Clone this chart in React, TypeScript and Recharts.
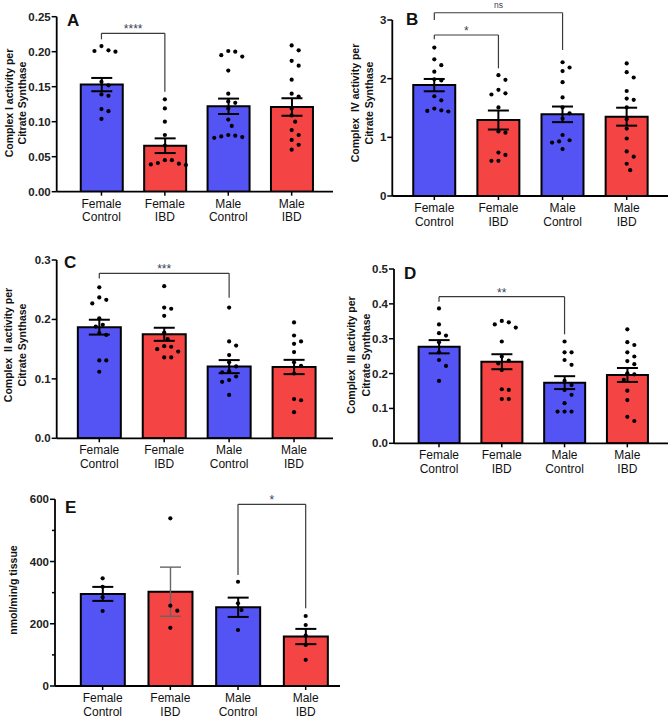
import { Bar, Cell, ComposedChart, ErrorBar, ReferenceLine, Scatter, XAxis, YAxis } from 'recharts'

const W = 672
const H = 720
const FONT = '"Liberation Sans", Arial, sans-serif'

const GROUPS = ['Female Control', 'Female IBD', 'Male Control', 'Male IBD']
const FILLS = ['#5454F4', '#F44444', '#5454F4', '#F44444']

// panel A - Complex I
const A_MEAN = [0.153, 0.0657, 0.122, 0.121]
const A_SEM = [0.0095, 0.0105, 0.011, 0.0125]
const A_FC = [0.208, 0.202, 0.201, 0.2, 0.157, 0.152, 0.139, 0.137, 0.118, 0.115, 0.104]
const A_FI = [0.132, 0.119, 0.1, 0.081, 0.066, 0.045, 0.045, 0.041, 0.04, 0.039, 0.038]
const A_MC = [0.201, 0.2, 0.195, 0.193, 0.173, 0.14, 0.129, 0.127, 0.119, 0.103, 0.094, 0.08, 0.081, 0.079, 0.078, 0.077]
const A_MI = [0.209, 0.202, 0.187, 0.18, 0.16, 0.14, 0.136, 0.119, 0.109, 0.1, 0.088, 0.081, 0.074, 0.067, 0.06]
const A_TICKS = [0, 0.05, 0.1, 0.15, 0.2, 0.25]

// panel B - Complex IV
const B_MEAN = [1.89, 1.295, 1.392, 1.352]
const B_SEM = [0.105, 0.162, 0.133, 0.153]
const B_FC = [2.53, 2.33, 2.23, 2.12, 1.99, 1.97, 1.7, 1.63, 1.49, 1.46, 1.45, 1.44]
const B_FI = [2.06, 1.98, 1.81, 1.75, 1.73, 1.51, 1.1, 1.08, 0.74, 0.7, 0.6, 0.6]
const B_MC = [2.28, 2.19, 2.13, 1.94, 1.68, 1.51, 1.41, 1.32, 1.04, 0.95, 0.93, 0.91, 0.8]
const B_MI = [2.26, 2.11, 2.02, 1.79, 1.66, 1.64, 1.51, 1.31, 1.15, 0.98, 0.76, 0.67, 0.55, 0.44]
const B_TICKS = [0, 1, 2, 3]

// panel C - Complex II
const C_MEAN = [0.187, 0.175, 0.1206, 0.12]
const C_SEM = [0.0125, 0.011, 0.011, 0.012]
const C_FC = [0.254, 0.237, 0.233, 0.227, 0.202, 0.191, 0.188, 0.177, 0.174, 0.131, 0.131, 0.112]
const C_FI = [0.256, 0.22, 0.218, 0.206, 0.178, 0.167, 0.155, 0.154, 0.15, 0.146, 0.136, 0.136]
const C_MC = [0.22, 0.163, 0.156, 0.14, 0.128, 0.121, 0.113, 0.111, 0.104, 0.098, 0.095, 0.073]
const C_MI = [0.195, 0.173, 0.163, 0.159, 0.145, 0.128, 0.122, 0.109, 0.066, 0.064, 0.044]
const C_TICKS = [0, 0.1, 0.2, 0.3]

// panel D - Complex III
const D_MEAN = [0.277, 0.234, 0.174, 0.196]
const D_SEM = [0.019, 0.0215, 0.0185, 0.02]
const D_FC = [0.387, 0.341, 0.316, 0.309, 0.29, 0.261, 0.239, 0.222, 0.179]
const D_FI = [0.351, 0.347, 0.341, 0.332, 0.292, 0.249, 0.237, 0.229, 0.21, 0.155, 0.153, 0.127, 0.127]
const D_MC = [0.292, 0.261, 0.261, 0.239, 0.225, 0.179, 0.167, 0.153, 0.139, 0.115, 0.091, 0.091, 0.091]
const D_MI = [0.327, 0.29, 0.282, 0.261, 0.249, 0.236, 0.227, 0.201, 0.198, 0.182, 0.151, 0.124, 0.076, 0.064]
const D_TICKS = [0, 0.1, 0.2, 0.3, 0.4, 0.5]

// panel E - nmol/min/g tissue
const E_MEAN = [296, 303, 253, 159]
const E_SEM = [22.5, 79, 31, 24.5]
const E_FC = [346, 319, 285, 241]
const E_FI = [539, 258, 242, 187]
const E_MC = [335, 266, 244, 180]
const E_MI = [225, 196, 162, 132, 84]
const E_TICKS = [0, 100, 200, 300, 400, 500, 600]

type Bracket = { from: number; to: number; y: number; l: number; r: number; text: string; fs: number; off: number }
type PanelCfg = {
  left: number; right: number; top: number; bottom: number
  lo: number; hi: number; yMax: number; ticks: number[]; major: (v: number) => boolean; fmt: (v: number) => string
  mean: number[]; sem: number[]; points: number[][]; barSize: number; brackets: Bracket[]; grayErr?: number[]
}

const PANELS: PanelCfg[] = [
  {
    left: 56.7, right: 333, top: 16.7, bottom: 191.7, lo: 0.294, hi: 4.652, yMax: 0.25,
    ticks: A_TICKS, major: () => true, fmt: (v) => v.toFixed(2),
    mean: A_MEAN, sem: A_SEM, points: [A_FC, A_FI, A_MC, A_MI], barSize: 42,
    brackets: [{ from: 1, to: 2, y: 0.2263, l: 0.2177, r: 0.1429, text: '****', fs: 12, off: 0 }],
  },
  {
    left: 392.3, right: 668, top: 20, bottom: 196, lo: 0.345, hi: 4.644, yMax: 3,
    ticks: B_TICKS, major: () => true, fmt: (v) => String(v),
    mean: B_MEAN, sem: B_SEM, points: [B_FC, B_FI, B_MC, B_MI], barSize: 42,
    brackets: [
      { from: 1, to: 3, y: 3.124, l: 3.0, r: 2.489, text: 'ns', fs: 8.5, off: 5 },
      { from: 1, to: 2, y: 2.744, l: 2.67, r: 2.176, text: '*', fs: 12, off: 0 },
    ],
  },
  {
    left: 56.7, right: 333, top: 260, bottom: 438.3, lo: 0.344, hi: 4.6, yMax: 0.3,
    ticks: C_TICKS, major: () => true, fmt: (v) => v.toFixed(1),
    mean: C_MEAN, sem: C_SEM, points: [C_FC, C_FI, C_MC, C_MI], barSize: 43,
    brackets: [{ from: 1, to: 3, y: 0.2776, l: 0.269, r: 0.2366, text: '***', fs: 12, off: 0 }],
  },
  {
    left: 394, right: 668, top: 269, bottom: 443.3, lo: 0.283, hi: 4.648, yMax: 0.5,
    ticks: D_TICKS, major: () => true, fmt: (v) => v.toFixed(1),
    mean: D_MEAN, sem: D_SEM, points: [D_FC, D_FI, D_MC, D_MI], barSize: 41,
    brackets: [{ from: 1, to: 3, y: 0.4205, l: 0.406, r: 0.3126, text: '**', fs: 12, off: 0 }],
  },
  {
    left: 55, right: 340, top: 499.3, bottom: 686, lo: 0.296, hi: 4.507, yMax: 600,
    ticks: E_TICKS, major: (v) => v % 200 === 0, fmt: (v) => String(v),
    mean: E_MEAN, sem: E_SEM, points: [E_FC, E_FI, E_MC, E_MI], barSize: 44,
    brackets: [{ from: 3, to: 4, y: 583.9, l: 356.7, r: 249.7, text: '*', fs: 12, off: 0 }],
    grayErr: [1],
  },
]

// simple beeswarm so dots at similar heights spread sideways
function swarm(values: number[], group: number, p: PanelCfg) {
  const pxY = (p.bottom - p.top) / p.yMax
  const pxX = (p.right - p.left) / (p.hi - p.lo)
  const placed: { px: number; py: number }[] = []
  return [...values].sort((a, b) => b - a).map((v) => {
    const py = v * pxY
    let off = 0
    for (let k = 0; k < 40; k++) {
      const cand = k === 0 ? 0 : (k % 2 ? 1 : -1) * Math.ceil(k / 2) * 3.5
      if (placed.every((q) => Math.hypot(q.px - cand, q.py - py) >= 7)) {
        off = cand
        break
      }
    }
    placed.push({ px: off, py })
    return { x: group + off / pxX, y: v }
  })
}

function Panel({ p }: { p: PanelCfg }) {
  const gray = p.grayErr ?? []
  const table = GROUPS.map((g, i) => ({
    x: i + 1,
    name: g,
    mean: p.mean[i],
    sem: gray.includes(i) ? undefined : p.sem[i],
    semGray: gray.includes(i) ? p.sem[i] : undefined,
  }))
  const dots = p.points.flatMap((vals, i) => swarm(vals, i + 1, p))
  const margin = { top: p.top, left: p.left - 40, right: W - p.right, bottom: H - p.bottom - 30 }
  const line = { stroke: '#3a3a3a', strokeWidth: 1.2, ifOverflow: 'visible' as const }

  return (
    <div style={{ position: 'absolute', left: 0, top: 0 }}>
      <ComposedChart width={W} height={H} data={table} margin={margin}>
        <XAxis
          type="number"
          dataKey="x"
          domain={[p.lo, p.hi]}
          allowDataOverflow
          ticks={[1, 2, 3, 4]}
          interval={0}
          height={30}
          tickSize={0}
          tickMargin={0}
          axisLine={{ stroke: '#000', strokeWidth: 1.8 }}
          tickLine={false}
          tick={(t: any) => {
            const [a, b] = GROUPS[t.payload.value - 1].split(' ')
            return (
              <g>
                <line x1={t.x} x2={t.x} y1={t.y} y2={t.y + 4} stroke="#000" strokeWidth={1.5} />
                <text x={t.x} y={t.y + 16} textAnchor="middle" fontSize={12} fontFamily={FONT} fill="#111">
                  <tspan x={t.x}>{a}</tspan>
                  <tspan x={t.x} dy={13.5}>{b}</tspan>
                </text>
              </g>
            )
          }}
        />
        <XAxis xAxisId="dots" type="number" dataKey="x" domain={[p.lo, p.hi]} allowDataOverflow hide />
        <YAxis
          type="number"
          domain={[0, p.yMax]}
          allowDataOverflow
          ticks={p.ticks}
          interval={0}
          width={40}
          tickSize={0}
          tickMargin={0}
          axisLine={{ stroke: '#000', strokeWidth: 1.8 }}
          tickLine={false}
          tick={(t: any) => {
            const major = p.major(t.payload.value)
            return (
              <g>
                <line x1={t.x - (major ? 5 : 3)} x2={t.x} y1={t.y} y2={t.y} stroke="#000" strokeWidth={1.5} />
                {major && (
                  <text x={t.x - 6} y={t.y} dy={4} textAnchor="end" fontSize={11.5} fontWeight="bold" fontFamily={FONT} fill="#222">
                    {p.fmt(t.payload.value)}
                  </text>
                )}
              </g>
            )
          }}
        />
        <Bar dataKey="mean" barSize={p.barSize} stroke="#000" strokeWidth={2} isAnimationActive={false}>
          {table.map((d, i) => (
            <Cell key={d.name} fill={FILLS[i]} />
          ))}
          <ErrorBar dataKey="sem" direction="y" width={10.5} stroke="#000" strokeWidth={2} isAnimationActive={false} />
          <ErrorBar dataKey="semGray" direction="y" width={10.5} stroke="#666" strokeWidth={1.4} isAnimationActive={false} />
        </Bar>
        <Scatter
          xAxisId="dots"
          data={dots}
          dataKey="y"
          isAnimationActive={false}
          shape={(s: any) => <circle cx={s.cx} cy={s.cy} r={2.1} fill="#000" />}
        />
        {p.brackets.flatMap((b, k) => [
          <ReferenceLine
            key={`h${k}`}
            segment={[{ x: b.from, y: b.y }, { x: b.to, y: b.y }]}
            {...line}
            label={{ value: b.text, position: 'top', offset: b.off, fill: '#3a4256', fontSize: b.fs, fontFamily: FONT }}
          />,
          <ReferenceLine key={`l${k}`} segment={[{ x: b.from, y: b.y }, { x: b.from, y: b.l }]} {...line} />,
          <ReferenceLine key={`r${k}`} segment={[{ x: b.to, y: b.y }, { x: b.to, y: b.r }]} {...line} />,
        ])}
      </ComposedChart>
    </div>
  )
}

const LETTERS = [
  { t: 'A', x: 67, y: 26 },
  { t: 'B', x: 406, y: 25 },
  { t: 'C', x: 64, y: 268 },
  { t: 'D', x: 404, y: 279 },
  { t: 'E', x: 65, y: 513 },
]

const YLABELS = [
  { lines: ['Complex I activity per', 'Citrate Synthase'], xs: [9, 22], y: 103 },
  { lines: ['Complex  IV activity per', 'Citrate Synthase'], xs: [355, 368.5], y: 103 },
  { lines: ['Complex  II activity per', 'Citrate Synthase'], xs: [8, 21.5], y: 345 },
  { lines: ['Complex  III activity per', 'Citrate Synthase'], xs: [351, 366], y: 355 },
  { lines: ['nmol/min/g tissue'], xs: [13], y: 590 },
]

export default function App() {
  return (
    <div style={{ position: 'absolute', left: 0, top: 0, width: W, height: H, background: '#fff' }}>
      {PANELS.map((p, i) => (
        <Panel key={i} p={p} />
      ))}
      <svg width={W} height={H} style={{ position: 'absolute', left: 0, top: 0, pointerEvents: 'none' }}>
        {LETTERS.map((l) => (
          <text key={l.t} x={l.x} y={l.y} fontSize={17} fontWeight="bold" fontFamily={FONT} fill="#111">
            {l.t}
          </text>
        ))}
        {YLABELS.flatMap((lab, i) =>
          lab.lines.map((s, j) => (
            <text
              key={`${i}-${j}`}
              transform={`translate(${lab.xs[j]},${lab.y}) rotate(-90)`}
              textAnchor="middle"
              dominantBaseline="central"
              fontSize={10.5}
              fontWeight="bold"
              fontFamily={FONT}
              fill="#111"
              style={{ whiteSpace: 'pre' }}
            >
              {s}
            </text>
          )),
        )}
      </svg>
    </div>
  )
}
